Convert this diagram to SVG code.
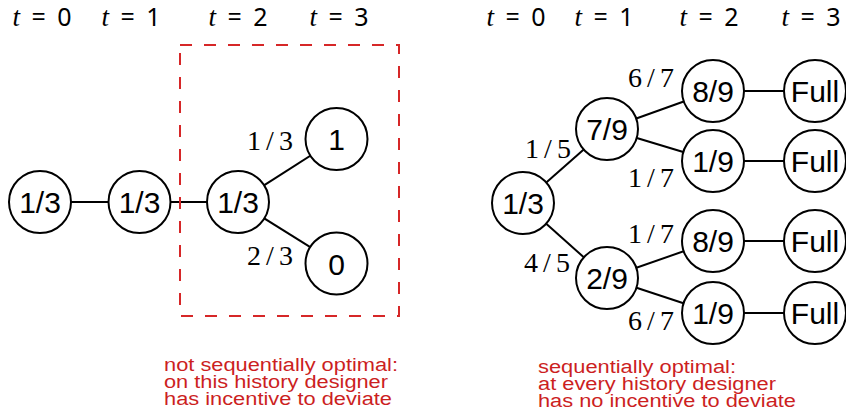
<svg xmlns="http://www.w3.org/2000/svg" width="846" height="416" viewBox="0 0 846 416">
<style>
.n circle{fill:#fff;stroke:#000;stroke-width:2}
.n text{font-family:"Liberation Sans",Arial,sans-serif;font-size:30px;text-anchor:middle;fill:#000}
.e line{stroke:#000;stroke-width:2}
.t{font-family:"Noto Sans","Liberation Sans",sans-serif;font-size:25px;text-anchor:middle;word-spacing:5px}
.t tspan.i{font-family:"Liberation Serif","Times New Roman",serif;font-style:italic;font-size:27px}
.lb{font-family:"Liberation Serif","Times New Roman",serif;font-size:28px;text-anchor:middle;word-spacing:-2px}
.red{font-family:"Liberation Sans",Arial,sans-serif;font-size:18px;fill:#cc1f1f}
</style>
<rect width="846" height="416" fill="#fff"/>
<g id="time-labels" class="t">
<text x="42" y="26"><tspan class="i">t</tspan> = 0</text>
<text x="131" y="26"><tspan class="i">t</tspan> = 1</text>
<text x="238" y="26"><tspan class="i">t</tspan> = 2</text>
<text x="339" y="26"><tspan class="i">t</tspan> = 3</text>
<text x="516" y="26"><tspan class="i">t</tspan> = 0</text>
<text x="604" y="26"><tspan class="i">t</tspan> = 1</text>
<text x="709" y="26"><tspan class="i">t</tspan> = 2</text>
<text x="811" y="26"><tspan class="i">t</tspan> = 3</text>
</g>
<g id="connectors" class="e">
<line x1="40" y1="202" x2="139.5" y2="202"/>
<line x1="139.5" y1="202" x2="238" y2="202"/>
<line x1="238" y1="202" x2="336.5" y2="139"/>
<line x1="238" y1="202" x2="336.5" y2="263.5"/>
<line x1="523" y1="203" x2="607" y2="129"/>
<line x1="523" y1="203" x2="607" y2="278"/>
<line x1="607" y1="129" x2="713" y2="91"/>
<line x1="607" y1="129" x2="713" y2="161"/>
<line x1="607" y1="278" x2="713" y2="241"/>
<line x1="607" y1="278" x2="713" y2="313"/>
<line x1="713" y1="91" x2="815" y2="91"/>
<line x1="713" y1="161" x2="815" y2="161"/>
<line x1="713" y1="241" x2="815" y2="241"/>
<line x1="713" y1="313" x2="815" y2="313"/>
</g>
<rect id="highlight-box" x="180" y="45" width="219" height="271" fill="none" stroke="#d62728" stroke-width="2" stroke-dasharray="12 12"/>
<g id="edge-labels" class="lb">
<text x="270" y="150">1 / 3</text>
<text x="270" y="265">2 / 3</text>
<text x="548" y="158">1 / 5</text>
<text x="547" y="272">4 / 5</text>
<text x="651" y="87">6 / 7</text>
<text x="651" y="187">1 / 7</text>
<text x="651" y="243">1 / 7</text>
<text x="651" y="330">6 / 7</text>
</g>
<g id="L0" class="n"><circle cx="40" cy="202" r="31"/><text x="40" y="213">1/3</text></g>
<g id="L1" class="n"><circle cx="139.5" cy="202" r="31"/><text x="139.5" y="213">1/3</text></g>
<g id="L2" class="n"><circle cx="238" cy="202" r="31"/><text x="238" y="213">1/3</text></g>
<g id="L3a" class="n"><circle cx="336.5" cy="139" r="31"/><text x="336.5" y="150">1</text></g>
<g id="L3b" class="n"><circle cx="336.5" cy="263.5" r="31"/><text x="336.5" y="274.5">0</text></g>
<g id="R0" class="n"><circle cx="523" cy="203" r="31"/><text x="523" y="214">1/3</text></g>
<g id="R1a" class="n"><circle cx="607" cy="129" r="31"/><text x="607" y="140">7/9</text></g>
<g id="R1b" class="n"><circle cx="607" cy="278" r="31"/><text x="607" y="289">2/9</text></g>
<g id="R2a" class="n"><circle cx="713" cy="91" r="31"/><text x="713" y="102">8/9</text></g>
<g id="R2b" class="n"><circle cx="713" cy="161" r="31"/><text x="713" y="172">1/9</text></g>
<g id="R2c" class="n"><circle cx="713" cy="241" r="31"/><text x="713" y="252">8/9</text></g>
<g id="R2d" class="n"><circle cx="713" cy="313" r="31"/><text x="713" y="324">1/9</text></g>
<g id="R3a" class="n"><circle cx="815" cy="91" r="31"/><text x="815" y="102">Full</text></g>
<g id="R3b" class="n"><circle cx="815" cy="161" r="31"/><text x="815" y="172">Full</text></g>
<g id="R3c" class="n"><circle cx="815" cy="241" r="31"/><text x="815" y="252">Full</text></g>
<g id="R3d" class="n"><circle cx="815" cy="313" r="31"/><text x="815" y="324">Full</text></g>
<g id="caption-left" class="red">
<text x="164" y="371" textLength="234" lengthAdjust="spacingAndGlyphs">not sequentially optimal:</text>
<text x="164" y="388" textLength="224" lengthAdjust="spacingAndGlyphs">on this history designer</text>
<text x="164" y="405" textLength="228" lengthAdjust="spacingAndGlyphs">has incentive to deviate</text>
</g>
<g id="caption-right" class="red">
<text x="538" y="373" textLength="198" lengthAdjust="spacingAndGlyphs">sequentially optimal:</text>
<text x="538" y="390" textLength="238" lengthAdjust="spacingAndGlyphs">at every history designer</text>
<text x="538" y="407" textLength="258" lengthAdjust="spacingAndGlyphs">has no incentive to deviate</text>
</g>
</svg>
